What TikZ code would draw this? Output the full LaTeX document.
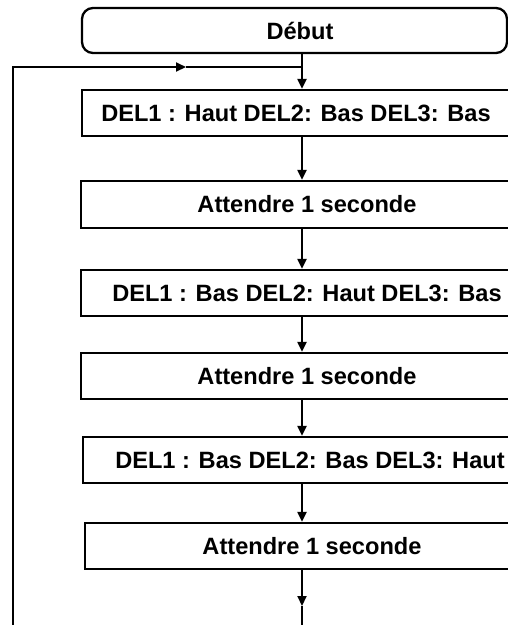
\documentclass[tikz,border=0pt]{standalone}
\usepackage{fontspec}
\setmainfont{Liberation Sans}
\usetikzlibrary{arrows.meta}
\begin{document}
\begin{tikzpicture}[x=1pt,y=-1pt,
  every node/.style={font=\fontsize{23.6}{27}\selectfont\bfseries, inner sep=0pt},
  procbox/.style={draw, line width=2.3pt, rectangle, minimum height=46pt},
  startbox/.style={draw, line width=2.3pt, rectangle, rounded corners=11pt, minimum height=45pt},
  conn/.style={line width=2.1pt},
  arr/.style={conn, -{Triangle[length=10pt,width=9pt]}}
]
\clip (0,0) rectangle (508,625);
\useasboundingbox (0,0) rectangle (508,625);
\fill[white] (0,0) rectangle (508,625);

\node[startbox, minimum width=425pt] (debut) at (294.5,30.5) {\hspace*{11pt}Début};
\node[procbox, minimum width=428pt] (b1) at (296,113) {DEL1 : Haut DEL2: Bas DEL3: Bas};
\node[procbox, minimum width=452pt, minimum height=47pt] (b2) at (307,204.5) {Attendre 1 seconde};
\node[procbox, minimum width=452pt] (b3) at (307,293) {DEL1 : Bas DEL2: Haut DEL3: Bas};
\node[procbox, minimum width=452pt] (b4) at (307,376) {Attendre 1 seconde};
\node[procbox, minimum width=454pt] (b5) at (310,460) {DEL1 : Bas DEL2: Bas DEL3: Haut};
\node[procbox, minimum width=454pt] (b6) at (312,546) {Attendre 1 seconde};

\coordinate (col) at (302,0);
\coordinate (lj) at (302,67);
\coordinate (lt) at (13,67);
\coordinate (lm) at (186,67);
\coordinate (lb) at (13,640);
\coordinate (bm) at (302,606);
\coordinate (be) at (302,640);

\draw[conn] (debut.south -| col) -- (lj);
\draw[arr] (lj) -- (b1.north -| col);
\draw[arr] (b1.south -| col) -- (b2.north -| col);
\draw[arr] (b2.south -| col) -- (b3.north -| col);
\draw[arr] (b3.south -| col) -- (b4.north -| col);
\draw[arr] (b4.south -| col) -- (b5.north -| col);
\draw[arr] (b5.south -| col) -- (b6.north -| col);
\draw[arr] (b6.south -| col) -- (bm);
\draw[conn] (bm) -- (be);

\draw[arr] (lb) -- (lt) -- (lm);
\draw[conn] (lm) -- (lj);
\end{tikzpicture}
\end{document}
